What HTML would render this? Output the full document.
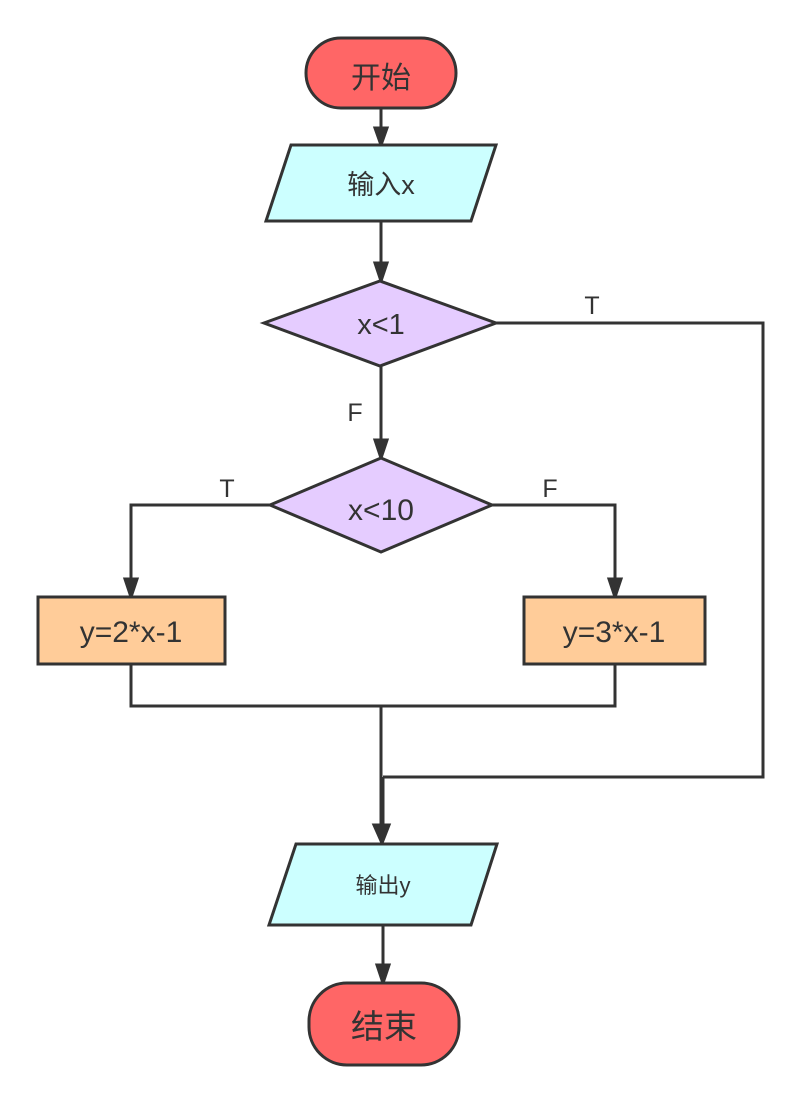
<!DOCTYPE html>
<html><head><meta charset="utf-8"><style>html,body{margin:0;padding:0;background:#fff}</style></head>
<body>
<svg width="800" height="1102" viewBox="0 0 800 1102" xmlns="http://www.w3.org/2000/svg" font-family="'Liberation Sans','Noto Sans CJK SC',sans-serif" fill="#333">
<defs><marker id="a" markerWidth="10" markerHeight="12" refX="5" refY="12" orient="auto" markerUnits="userSpaceOnUse" viewBox="0 0 10 12"><path d="M0,0 L10,0 L5,12 z" fill="#333" transform="rotate(0)"/></marker></defs>
<g stroke="#333" stroke-width="3" fill="none">
<line x1="381" y1="108" x2="381" y2="131"/><path d="M375,128 L387,128 L381,145 z" fill="#333"/>
<line x1="381" y1="221" x2="381" y2="266"/><path d="M375,263 L387,263 L381,281 z" fill="#333"/>
<line x1="381" y1="366" x2="381" y2="443"/><path d="M375,440 L387,440 L381,458 z" fill="#333"/>
<polyline points="496,323 763,323 763,777 383,777"/>
<polyline points="270,505 131,505 131,582"/><path d="M125,579 L137,579 L131,597 z" fill="#333"/>
<polyline points="492,505 615,505 615,582"/><path d="M609,579 L621,579 L615,597 z" fill="#333"/>
<polyline points="131,664 131,706 615,706 615,664"/>
<line x1="381" y1="706" x2="381" y2="828"/><line x1="383" y1="777" x2="383" y2="828"/>
<path d="M374,825 L389,825 L382,843 z" fill="#333"/>
<line x1="383" y1="925" x2="383" y2="968"/><path d="M377,965 L389,965 L383,983 z" fill="#333"/>
<rect x="306" y="38" width="150" height="70" rx="35" fill="#ff6666"/>
<polygon points="291,145 496,145 471,221 266,221" fill="#ccffff"/>
<polygon points="380,281 496,323 380,366 264,323" fill="#e5ccff"/>
<polygon points="381,458 492,505 381,552 270,505" fill="#e5ccff"/>
<rect x="38" y="597" width="187" height="67" fill="#ffcc99"/>
<rect x="524" y="597" width="181" height="67" fill="#ffcc99"/>
<polygon points="296,844 497,844 471,925 269,925" fill="#ccffff"/>
<rect x="309" y="983" width="150" height="82" rx="38" fill="#ff6666"/>
</g>
<g text-anchor="middle" fill="#333">
<text x="381" y="88" font-size="30">开始</text>
<text x="381" y="194" font-size="27">输入x</text>
<text x="381" y="334" font-size="29">x&lt;1</text>
<text x="381" y="520" font-size="30">x&lt;10</text>
<text x="131" y="642" font-size="30">y=2*x-1</text>
<text x="614" y="642" font-size="30">y=3*x-1</text>
<text x="383" y="893" font-size="22">输出y</text>
<text x="384" y="1038" font-size="33">结束</text>
<text x="592" y="314" font-size="25">T</text>
<text x="355" y="421" font-size="25">F</text>
<text x="227" y="497" font-size="25">T</text>
<text x="550" y="497" font-size="25">F</text>
</g>
</svg>
</body></html>
